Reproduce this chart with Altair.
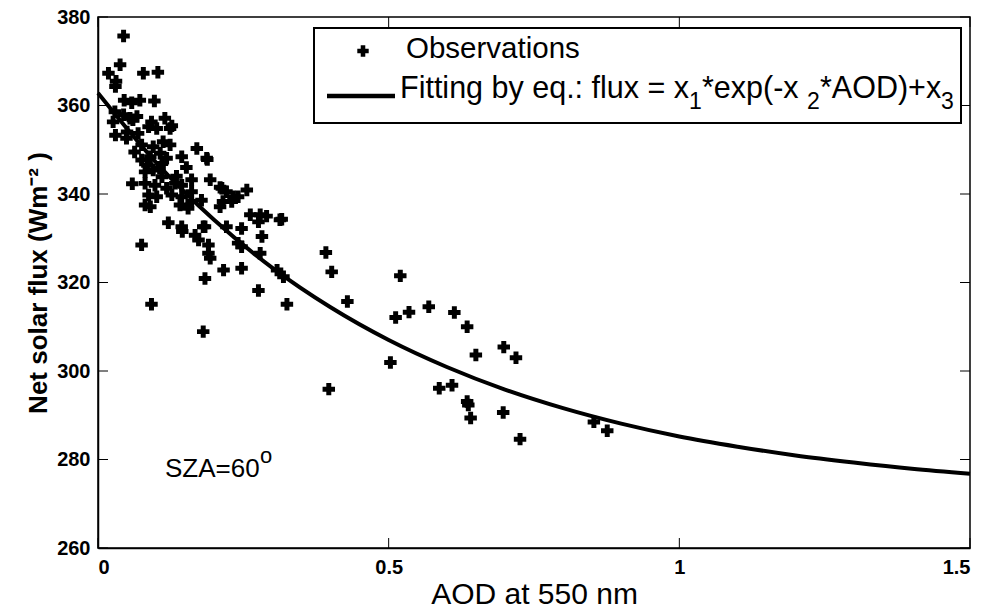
import altair as alt
import pandas as pd

# ---- data ----
aod_obs = [0.044, 0.038, 0.018, 0.031, 0.030, 0.078, 0.103, 0.045, 0.058, 0.072, 0.097,
           0.029, 0.044, 0.055, 0.067, 0.026, 0.092, 0.115, 0.127,
           0.030, 0.049, 0.069, 0.087, 0.101, 0.124, 0.075, 0.095, 0.112, 0.124,
           0.075, 0.090, 0.107, 0.118, 0.144, 0.170, 0.187,
           0.081, 0.095, 0.110, 0.081, 0.098, 0.059, 0.118, 0.133, 0.144, 0.161, 0.193, 0.213,
           0.087, 0.101, 0.127, 0.144, 0.161, 0.081, 0.090, 0.141, 0.155, 0.178, 0.215, 0.161,
           0.121, 0.144, 0.181,
           0.188, 0.210, 0.221, 0.233, 0.241, 0.256, 0.230, 0.210, 0.262, 0.279, 0.290, 0.313,
           0.145, 0.167, 0.184, 0.173, 0.190, 0.190, 0.193, 0.075, 0.221, 0.247, 0.241, 0.247,
           0.282, 0.276, 0.316, 0.279, 0.308, 0.319, 0.216, 0.247, 0.184, 0.276, 0.325, 0.092,
           0.181, 0.392, 0.402, 0.429, 0.397, 0.520, 0.512, 0.535, 0.569, 0.503, 0.613, 0.635,
           0.650, 0.698, 0.719, 0.587, 0.609, 0.635, 0.637, 0.641, 0.697, 0.726, 0.853, 0.876,
           0.050, 0.063, 0.085, 0.106, 0.135, 0.152, 0.060, 0.110]
flux_obs = [375.7, 369.2, 367.3, 365.5, 364.3, 367.3, 367.5, 361.2, 360.6, 361.2, 361.0,
            358.6, 357.9, 357.1, 357.5, 356.3, 356.3, 357.1, 355.4,
            353.3, 352.6, 353.7, 355.2, 354.8, 354.8, 351.1, 350.7, 351.8, 351.1,
            347.7, 348.4, 349.2, 348.1, 348.4, 350.3, 348.1,
            345.0, 345.4, 343.9, 342.4, 342.0, 342.3, 341.3, 342.4, 342.0, 343.2, 343.2, 341.3,
            339.8, 339.4, 339.8, 339.4, 340.5, 337.5, 337.1, 337.5, 336.8, 338.6, 338.3, 338.3,
            333.5, 332.6, 332.6,
            347.8, 341.5, 340.5, 339.4, 339.4, 340.9, 338.3, 337.1, 335.3, 335.3, 335.0, 334.2,
            331.5, 330.7, 332.6, 329.6, 328.5, 326.6, 325.5, 328.5, 332.6, 332.2, 328.9, 328.1,
            330.4, 333.7, 334.3, 326.6, 322.8, 321.3, 322.8, 323.2, 320.9, 318.2, 315.1, 315.1,
            308.9, 326.8, 322.4, 315.7, 295.9, 321.5, 312.1, 313.3, 314.5, 301.9, 313.2, 310.0,
            303.6, 305.4, 303.0, 296.1, 296.8, 293.1, 292.3, 289.4, 290.6, 284.6, 288.5, 286.5,
            354.0, 349.5, 346.5, 345.8, 344.0, 346.0, 356.8, 346.9]

aod_fit = [0.0, 0.1, 0.2, 0.3, 0.4, 0.5, 0.6, 0.7, 0.8, 0.9, 1.0, 1.1, 1.2, 1.3, 1.4, 1.5]
flux_fit = [362.8, 347.1, 334.1, 323.3, 314.4, 307.0, 300.9, 295.8, 291.6, 288.1,
            285.2, 282.9, 280.9, 279.3, 277.9, 276.8]

x_ticks = [0, 0.5, 1.0, 1.5]
y_ticks = [260, 280, 300, 320, 340, 360, 380]

W, H = 872, 531
FONT = "Liberation Sans"

obs = pd.DataFrame({"aod": aod_obs, "flux": flux_obs})
fit = pd.DataFrame({"aod": aod_fit, "flux": flux_fit})
xt = pd.DataFrame({"t": x_ticks})
yt = pd.DataFrame({"t": y_ticks})
one = pd.DataFrame({"d": [0]})

xscale = alt.Scale(domain=[0, 1.5], nice=False, zero=False)
yscale = alt.Scale(domain=[260, 380], nice=False, zero=False)

xaxis = alt.Axis(values=x_ticks, format="~g", title="AOD at 550 nm", grid=False,
                 tickSize=0, labelPadding=9, labelFontSize=20, labelFontWeight="bold",
                 labelFont=FONT, titleFont=FONT, titleFontSize=30, titleFontWeight="normal",
                 titlePadding=2, domainColor="black", domainWidth=1.5, labelColor="black",
                 titleColor="black")
yaxis = alt.Axis(values=y_ticks, title="Net solar flux (Wm⁻² )", grid=False,
                 tickSize=0, labelPadding=8, labelFontSize=20, labelFontWeight="bold",
                 labelFont=FONT, titleFont=FONT, titleFontSize=26, titleFontWeight="bold",
                 titlePadding=5, domainColor="black", domainWidth=1.5, labelColor="black",
                 titleColor="black")

points = alt.Chart(obs).mark_point(shape="cross", filled=True, size=155, color="black",
                                   opacity=1, strokeWidth=0).encode(
    x=alt.X("aod:Q", scale=xscale, axis=xaxis),
    y=alt.Y("flux:Q", scale=yscale, axis=yaxis),
)

curve = alt.Chart(fit).mark_line(color="black", strokeWidth=4, interpolate="monotone").encode(
    x=alt.X("aod:Q", scale=xscale),
    y=alt.Y("flux:Q", scale=yscale),
)

# inward ticks (MATLAB style), on all four sides
tick_len = 10
tb = alt.Chart(xt).mark_rule(color="black", strokeWidth=1).encode(
    x=alt.X("t:Q", scale=xscale), y=alt.value(H), y2=alt.value(H - tick_len))
tt = alt.Chart(xt).mark_rule(color="black", strokeWidth=1).encode(
    x=alt.X("t:Q", scale=xscale), y=alt.value(0), y2=alt.value(tick_len))
tl = alt.Chart(yt).mark_rule(color="black", strokeWidth=1).encode(
    y=alt.Y("t:Q", scale=yscale), x=alt.value(0), x2=alt.value(tick_len))
tr = alt.Chart(yt).mark_rule(color="black", strokeWidth=1).encode(
    y=alt.Y("t:Q", scale=yscale), x=alt.value(W), x2=alt.value(W - tick_len))

# legend box
box = alt.Chart(one).mark_rect(fill="white", stroke="black", strokeWidth=2).encode(
    x=alt.value(216), x2=alt.value(863), y=alt.value(11), y2=alt.value(106))
leg_sym = alt.Chart(one).mark_point(shape="cross", filled=True, size=130, color="black",
                                    opacity=1, strokeWidth=0).encode(
    x=alt.value(265), y=alt.value(34))
leg_line = alt.Chart(one).mark_rule(color="black", strokeWidth=4.5).encode(
    x=alt.value(229), x2=alt.value(297), y=alt.value(79))


def txt(s, x, y, size=30, weight="normal"):
    return alt.Chart(one).mark_text(text=s, font=FONT, fontSize=size, fontWeight=weight,
                                    align="left", baseline="alphabetic", color="black").encode(
        x=alt.value(x), y=alt.value(y))


leg_texts = [
    txt("Observations", 308, 41, size=29.5),
    txt("Fitting by eq.: flux = x", 302, 81, size=30.5),
    txt("1", 591, 92, size=23),
    txt("*exp(-x", 604, 81, size=30.5),
    txt("2", 709, 92, size=23),
    txt("*AOD)+x", 722, 81, size=30.5),
    txt("3", 843, 92, size=23),
]
sza = [txt("SZA=60", 67, 460, size=26), txt("o", 162, 446, size=22)]

chart = alt.layer(points, curve, tb, tt, tl, tr, box, leg_sym, leg_line, *leg_texts, *sza).properties(
    width=W, height=H,
    autosize=alt.AutoSizeParams(type="none"),
    padding={"left": 90, "top": 9, "right": 9, "bottom": 60},
).configure_view(stroke="black", strokeWidth=1.5)

chart.save("out.html", embed_options={"renderer": "svg", "actions": False})
